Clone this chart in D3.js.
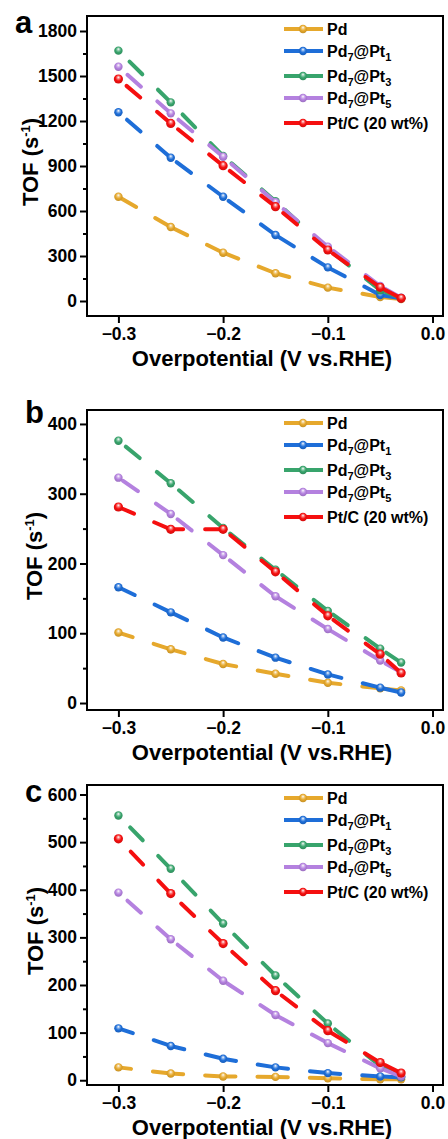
<!DOCTYPE html>
<html>
<head>
<meta charset="utf-8">
<script src="https://cdn.jsdelivr.net/npm/d3@7"></script>
<style>
  body { margin: 0; background: #fff; }
  svg { display: block; }
  text { font-family: "Liberation Sans", Arial, sans-serif; font-weight: bold; }
</style>
</head>
<body>
<div id="chart"></div>
<script>
// x values (overpotential, V vs RHE)
var overpotential = [-0.3, -0.25, -0.2, -0.15, -0.1, -0.05, -0.03];

var seriesNames = ["Pd", "Pd7@Pt1", "Pd7@Pt3", "Pd7@Pt5", "Pt/C (20 wt%)"];
var seriesColors = ["#E6A82C", "#1E6ED8", "#38A46C", "#B481DF", "#F50F0F"];

// panel a
var aPd   = [695, 493, 322, 185, 89, 27, 13];
var aPt1  = [1258, 955, 695, 440, 224, 40, 18];
var aPt3  = [1669, 1324, 967, 665, 348, 72, 20];
var aPt5  = [1562, 1251, 962, 658, 362, 100, 22];
var aPtC  = [1480, 1184, 902, 629, 340, 91, 18];

// panel b
var bPd   = [101, 77, 56, 42, 29, 21, 18];
var bPt1  = [166, 130, 94, 65, 41, 22, 15];
var bPt3  = [376, 315, 251, 191, 132, 78, 58];
var bPt5  = [323, 271, 212, 153, 106, 61, 44];
var bPtC  = [281, 249, 249, 188, 125, 70, 43];

// panel c
var cPd   = [27, 14, 8, 7, 4, 2, 2];
var cPt1  = [109, 72, 45, 27, 15, 8, 6];
var cPt3  = [556, 444, 329, 220, 119, 30, 8];
var cPt5  = [394, 296, 209, 137, 78, 25, 8];
var cPtC  = [507, 392, 287, 188, 104, 37, 15];

var yTicksA = [0, 300, 600, 900, 1200, 1500, 1800];
var yTicksB = [0, 100, 200, 300, 400];
var yTicksC = [0, 100, 200, 300, 400, 500, 600];
var xTicks = [-0.3, -0.2, -0.1, 0.0];

var panels = [
  { letter: "a", top: 16, domain: [-100, 1900], ticks: yTicksA, minor: 150,
    data: [aPd, aPt1, aPt3, aPt5, aPtC], letterX: 15, letterY: 33, titleX: 38 },
  { letter: "b", top: 410, domain: [-10, 420], ticks: yTicksB, minor: 50,
    data: [bPd, bPt1, bPt3, bPt5, bPtC], letterX: 25, letterY: 423, titleX: 42 },
  { letter: "c", top: 785, domain: [-10, 620], ticks: yTicksC, minor: 50,
    data: [cPd, cPt1, cPt3, cPt5, cPtC], letterX: 25, letterY: 802, titleX: 43 }
];

var svgWidth = 448;
var svgHeight = 1139;
var left = 87, right = 443, panelHeight = 300;

var svg = d3.select("#chart")
  .append("svg")
  .attr("width", svgWidth)
  .attr("height", svgHeight);

// glossy marker gradients
var defs = svg.append("defs");
seriesColors.forEach(function(c, i) {
  var g = defs.append("radialGradient")
    .attr("id", "glow" + i)
    .attr("cx", "50%").attr("cy", "45%").attr("r", "60%")
    .attr("fx", "50%").attr("fy", "30%");
  g.append("stop").attr("offset", "0%").attr("stop-color", "#ffffff");
  g.append("stop").attr("offset", "28%").attr("stop-color", d3.interpolateRgb("#ffffff", c)(0.6));
  g.append("stop").attr("offset", "55%").attr("stop-color", c);
  g.append("stop").attr("offset", "100%").attr("stop-color", d3.color(c).darker(0.5));
});

var xScale = d3.scaleLinear()
  .domain([-0.33, 0.01])
  .range([left, right]);

function addLabel(sel, name) {
  // Pd7@Pt1 -> Pd<sub>7</sub>@Pt<sub>1</sub>
  var m = name.match(/^Pd(\d)@Pt(\d)$/);
  if (!m) { sel.text(name); return; }
  sel.append("tspan").text("Pd");
  sel.append("tspan").attr("dy", 4).attr("font-size", 11).text(m[1]);
  sel.append("tspan").attr("dy", -4).text("@Pt");
  sel.append("tspan").attr("dy", 4).attr("font-size", 11).text(m[2]);
}

function styleAxis(a) {
  a.select(".domain").remove();
  a.selectAll("line").attr("stroke-width", 2);
  a.selectAll("text").attr("font-size", 17.5).attr("fill", "#000")
    .style("font-family", "'Liberation Sans', Arial, sans-serif").style("font-weight", "bold");
}

panels.forEach(function(p) {
  var bottom = p.top + panelHeight;
  var yScale = d3.scaleLinear()
    .domain(p.domain)
    .range([bottom, p.top]);

  var g = svg.append("g");

  // minor y ticks
  var minorTicks = d3.range(p.ticks[0] + p.minor, p.ticks[p.ticks.length - 1], p.minor)
    .filter(function(v) { return p.ticks.indexOf(v) < 0; });
  g.append("g")
    .attr("transform", `translate(${left}, 0)`)
    .call(d3.axisLeft(yScale).tickValues(minorTicks).tickSize(4).tickSizeOuter(0).tickFormat(""))
    .call(function(a) { a.select(".domain").remove(); a.selectAll("line").attr("stroke-width", 2); });

  // major y axis
  g.append("g")
    .attr("transform", `translate(${left}, 0)`)
    .call(d3.axisLeft(yScale).tickValues(p.ticks).tickSize(7).tickSizeOuter(0).tickPadding(3)
      .tickFormat(d3.format("d")))
    .call(styleAxis);

  // x axis
  g.append("g")
    .attr("transform", `translate(0, ${bottom})`)
    .call(d3.axisBottom(xScale).tickValues(xTicks).tickSize(7).tickSizeOuter(0).tickPadding(5)
      .tickFormat(d3.format(".1f")))
    .call(styleAxis);

  // frame
  g.append("rect")
    .attr("x", left).attr("y", p.top)
    .attr("width", right - left).attr("height", panelHeight)
    .attr("fill", "none").attr("stroke", "#000").attr("stroke-width", 2);

  // series: dashed segments, pattern restarts at each point
  var line = d3.line().x(d => xScale(d[0])).y(d => yScale(d[1]));
  p.data.forEach(function(vals, si) {
    var pts = overpotential.map(function(x, i) { return [x, vals[i]]; });
    var sg = g.append("g");
    for (var i = 0; i < pts.length - 1; i++) {
      sg.append("path")
        .attr("d", line([pts[i + 1], pts[i]]))
        .attr("fill", "none")
        .attr("stroke", seriesColors[si])
        .attr("stroke-width", 4)
        .attr("stroke-linecap", "round")
        .attr("stroke-dasharray", "18,22");
    }
    sg.selectAll("circle")
      .data(pts)
      .enter()
      .append("circle")
      .attr("cx", d => xScale(d[0]))
      .attr("cy", d => yScale(d[1]))
      .attr("r", si === 4 ? 4.6 : 4.2)
      .attr("fill", "url(#glow" + si + ")");
  });

  // legend
  var rowOffsets = [13, 35, 60, 82, 107];
  seriesNames.forEach(function(name, si) {
    var ly = p.top + rowOffsets[si];
    g.append("line")
      .attr("x1", 284).attr("x2", 323)
      .attr("y1", ly).attr("y2", ly)
      .attr("stroke", seriesColors[si])
      .attr("stroke-width", 4);
    g.append("circle")
      .attr("cx", 303).attr("cy", ly)
      .attr("r", 4.2)
      .attr("fill", "url(#glow" + si + ")");
    g.append("text")
      .attr("x", 327).attr("y", ly + 6)
      .attr("font-size", 16)
      .call(addLabel, name);
  });

  // axis titles
  svg.append("text")
    .attr("x", (left + right) / 2 - 3).attr("y", bottom + 50)
    .attr("text-anchor", "middle")
    .attr("font-size", 22)
    .text("Overpotential (V vs.RHE)");

  var yt = svg.append("text")
    .attr("transform", `translate(${p.titleX}, ${p.top + panelHeight / 2 - 4}) rotate(-90)`)
    .attr("text-anchor", "middle")
    .attr("font-size", 22);
  yt.append("tspan").text("TOF (s");
  yt.append("tspan").attr("dy", -8).attr("font-size", 13).text("-1");
  yt.append("tspan").attr("dy", 8).text(")");

  // panel letter
  svg.append("text")
    .attr("x", p.letterX).attr("y", p.letterY)
    .attr("font-size", 31)
    .text(p.letter);
});
</script>
</body>
</html>
